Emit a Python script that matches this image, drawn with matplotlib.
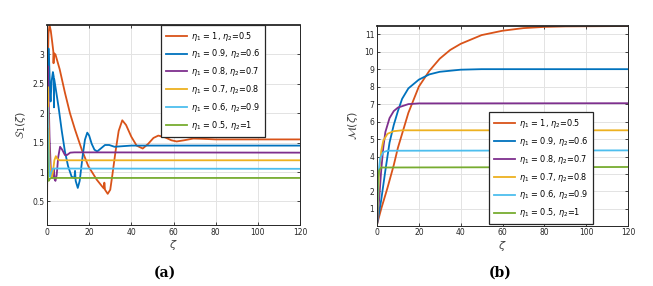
import numpy as np
import matplotlib
matplotlib.use('Agg')
import matplotlib.pyplot as plt

# legend labels and colours (MATLAB default order)
labels = [r'$\eta_1$ = 1, $\eta_2$=0.5', r'$\eta_1$ = 0.9, $\eta_2$=0.6',
          r'$\eta_1$ = 0.8, $\eta_2$=0.7', r'$\eta_1$ = 0.7, $\eta_2$=0.8',
          r'$\eta_1$ = 0.6, $\eta_2$=0.9', r'$\eta_1$ = 0.5, $\eta_2$=1']
colors = ['#D95319', '#0072BD', '#7E2F8E', '#EDB120', '#4DBEEE', '#77AC30']

# (a) S_1(zeta), points
s_x1 = [0, 0.3, 0.7, 1.2, 1.8, 2.5, 3.0, 3.1, 3.3, 4.0, 6.0, 8.5, 10.9, 13.3,
        16.5, 19.6, 23.6, 26.5, 27.0, 27.2, 27.5, 28.8, 30.0, 31.0, 32.5, 34.0,
        35.7, 37.5, 40.0, 42.5, 45.4, 48.0, 50.5, 52.8, 56.0, 59.0, 61.5, 65.0,
        69.4, 74.0, 80.0, 120]
s_y1 = [0.1, 2.6, 3.35, 3.5, 3.4, 3.2, 3.05, 2.85, 3.02, 3.0, 2.75, 2.35, 2.0,
        1.72, 1.38, 1.1, 0.87, 0.74, 0.72, 0.82, 0.70, 0.63, 0.7, 0.95, 1.35,
        1.7, 1.88, 1.8, 1.6, 1.45, 1.4, 1.48, 1.58, 1.62, 1.59, 1.54, 1.52,
        1.54, 1.57, 1.565, 1.555, 1.555]

s_x2 = [0, 0.2, 0.7, 1.0, 1.5, 1.7, 2.2, 2.8, 3.2, 3.3, 3.4, 4.0, 5.5, 7.0,
        8.5, 10.0, 11.7, 13.0, 13.3, 13.6, 14.6, 15.5, 17.0, 18.0, 19.1, 20.0,
        21.2, 22.5, 23.8, 25.5, 27.5, 29.5, 32.0, 36.0, 40.0, 120]
s_y2 = [0.1, 2.5, 3.1, 2.9, 2.3, 2.2, 2.55, 2.7, 2.62, 2.1, 2.58, 2.45, 2.1,
        1.7, 1.35, 1.1, 0.92, 0.9, 1.02, 0.85, 0.73, 0.85, 1.3, 1.55, 1.67,
        1.62, 1.48, 1.38, 1.35, 1.4, 1.46, 1.46, 1.43, 1.44, 1.45, 1.45]

s_x3 = [0, 0.15, 0.4, 0.7, 1.2, 1.8, 2.5, 3.0, 3.3, 3.6, 4.0, 4.6, 5.3, 6.2,
        7.2, 8.5, 9.5, 11.0, 13.0, 120]
s_y3 = [0.1, 2.0, 2.8, 2.4, 1.6, 1.05, 0.9, 0.95, 1.05, 0.88, 0.85, 0.95,
        1.25, 1.43, 1.38, 1.29, 1.29, 1.33, 1.335, 1.33]

s_x4 = [0, 0.1, 0.3, 0.6, 1.2, 1.8, 2.3, 2.8, 3.5, 4.2, 5.0, 6.0, 120]
s_y4 = [0.1, 1.8, 2.45, 2.0, 1.2, 0.95, 0.9, 1.0, 1.2, 1.27, 1.22, 1.2, 1.2]

s_x5 = [0, 0.08, 0.2, 0.5, 1.0, 1.4, 2.0, 2.8, 120]
s_y5 = [0.1, 1.8, 2.1, 1.6, 1.0, 0.92, 1.0, 1.06, 1.055]

s_x6 = [0, 0.1, 0.25, 0.5, 0.8, 1.2, 2.0, 120]
s_y6 = [0.1, 1.75, 1.3, 0.9, 0.85, 0.88, 0.9, 0.9]

# (b) M(zeta)
m_x1 = [0, 2, 5, 8, 10, 12, 15, 20, 25, 30, 35, 40, 50, 60, 70, 80, 90, 120]
m_y1 = [0.1, 1.0, 2.2, 3.5, 4.5, 5.3, 6.5, 8.0, 8.9, 9.6, 10.1, 10.45, 10.95,
        11.2, 11.35, 11.42, 11.45, 11.47]
m_x2 = [0, 2, 4, 6, 8, 10, 12, 15, 20, 25, 30, 40, 50, 120]
m_y2 = [0.1, 1.5, 3.2, 4.8, 5.8, 6.6, 7.3, 7.9, 8.4, 8.7, 8.85, 8.97, 9.0, 9.0]
m_x3 = [0, 1, 2, 3, 4, 6, 8, 10, 15, 20, 120]
m_y3 = [0.1, 1.5, 3.2, 4.5, 5.4, 6.2, 6.6, 6.8, 7.0, 7.04, 7.05]
m_x4 = [0, 0.5, 1, 2, 3, 5, 8, 12, 120]
m_y4 = [0.1, 1.5, 3.0, 4.3, 4.9, 5.3, 5.45, 5.5, 5.5]
m_x5 = [0, 0.3, 0.7, 1.5, 3, 5, 120]
m_y5 = [0.1, 1.5, 3.0, 3.9, 4.25, 4.33, 4.35]
m_x6 = [0, 0.2, 0.5, 1, 2, 120]
m_y6 = [0.1, 1.5, 2.8, 3.2, 3.37, 3.4]

s_series = [(s_x1, s_y1), (s_x2, s_y2), (s_x3, s_y3), (s_x4, s_y4),
            (s_x5, s_y5), (s_x6, s_y6)]
m_series = [(m_x1, m_y1), (m_x2, m_y2), (m_x3, m_y3), (m_x4, m_y4),
            (m_x5, m_y5), (m_x6, m_y6)]

W, H = 653, 286
fig = plt.figure(figsize=(W / 100, H / 100), dpi=100)
ax1 = fig.add_axes([47 / W, (H - 225) / H, 253 / W, 200 / H])
ax2 = fig.add_axes([377 / W, (H - 225.5) / H, 251 / W, 200 / H])


def style(ax):
    ax.grid(True, color='#e3e3e3', linewidth=0.7)
    ax.set_axisbelow(True)
    ax.tick_params(direction='in', top=True, right=True, labelsize=5.5,
                   length=2.5, width=0.6, colors='#262626', pad=2)
    for sp in ax.spines.values():
        sp.set_color('#262626')
        sp.set_linewidth(0.7)
    ax.spines['top'].set_linewidth(1.3)
    ax.set_xlim(0, 120)
    ax.set_xticks(np.arange(0, 121, 20))
    ax.set_xlabel(r'$\zeta$', fontsize=8, color='#404040', labelpad=1)


def legend(ax, loc, anchor):
    leg = ax.legend(loc=loc, bbox_to_anchor=anchor, borderaxespad=0,
                    fontsize=5.9, handlelength=2.6, labelspacing=0.6,
                    fancybox=False, framealpha=1, edgecolor='#262626',
                    borderpad=0.55, handletextpad=0.5)
    leg.get_frame().set_linewidth(0.9)


for (x, y), c, lab in zip(s_series, colors, labels):
    ax1.plot(x, y, color=c, linewidth=1.3, label=lab)
style(ax1)
ax1.set_ylim(0.1, 3.5)
ax1.set_yticks([0.5, 1, 1.5, 2, 2.5, 3])
ax1.set_yticklabels(['0.5', '1', '1.5', '2', '2.5', '3'])
ax1.set_ylabel(r'$\mathcal{S}_1(\zeta)$', fontsize=8, color='#404040', labelpad=3)
legend(ax1, 'upper right', (0.862, 1.0))

for (x, y), c, lab in zip(m_series, colors, labels):
    ax2.plot(x, y, color=c, linewidth=1.3, label=lab)
style(ax2)
ax2.set_ylim(0.05, 11.5)
ax2.set_yticks(np.arange(1, 12))
ax2.set_ylabel(r'$\mathcal{M}(\zeta)$', fontsize=8, color='#404040', labelpad=3)
legend(ax2, 'lower right', (0.861, 0.008))

fig.text(165 / W, (H - 273) / H, '(a)', ha='center', va='center', fontsize=10,
         fontweight='bold', family='DejaVu Serif')
fig.text(500 / W, (H - 273) / H, '(b)', ha='center', va='center', fontsize=10,
         fontweight='bold', family='DejaVu Serif')

fig.savefig('out.png', dpi=100)
